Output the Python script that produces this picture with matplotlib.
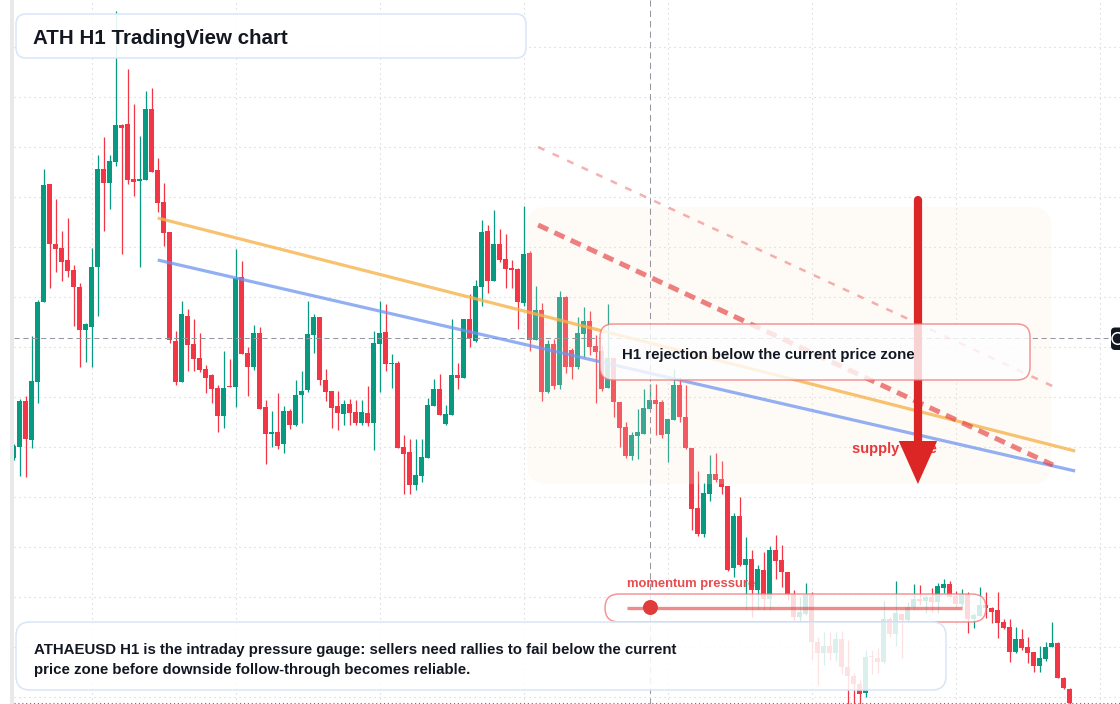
import numpy as np
import matplotlib
matplotlib.use("Agg")
import matplotlib.pyplot as plt
import matplotlib.transforms as mtransforms
from matplotlib.patches import FancyBboxPatch, Rectangle, Polygon, Circle

plt.rcParams['font.family'] = ['Liberation Sans', 'DejaVu Sans']

# ATHAEUSD H1 candles (price units arbitrary, grid every 5)
opens = [
    28.9, 30.0, 34.6, 30.7, 36.5, 44.5, 56.3, 50.3, 49.9, 48.7,
    47.7, 46.0, 41.7, 42.0, 48.0, 57.8, 56.4, 58.5, 62.2, 62.3,
    56.8, 56.6, 56.7, 63.8, 57.7, 54.5, 51.5, 40.6, 36.5, 43.1,
    40.3, 38.9, 37.8, 37.2, 35.9, 33.1, 36.1, 36.0, 47.0, 39.4,
    38.0, 41.4, 34.0, 31.3, 31.5, 30.3, 33.6, 32.2, 35.2, 35.7,
    41.2, 43.0, 36.7, 35.6, 34.1, 33.3, 34.3, 33.5, 32.4, 33.4,
    32.4, 40.3, 41.5, 38.3, 38.4, 30.0, 29.5, 26.2, 27.1, 28.9,
    34.1, 35.8, 32.3, 33.2, 37.2, 36.9, 42.8, 40.6, 46.0, 51.6,
    46.6, 50.3, 48.8, 47.9, 47.8, 44.4, 49.4, 40.7, 43.7, 35.5,
    40.3, 36.2, 45.0, 39.7, 38.0, 41.3, 42.6, 40.1, 39.6, 35.9,
    38.9, 34.5, 32.0, 29.1, 31.1, 31.3, 33.8, 34.7, 34.5, 31.3,
    32.7, 36.2, 33.0, 29.9, 23.9, 21.3, 25.3, 27.3, 26.8, 26.1,
    17.9, 23.1, 18.2, 18.8, 15.7, 17.7, 14.8, 19.7, 18.7, 17.5,
    15.3, 13.0, 13.3, 15.2, 10.5, 9.4, 10.1, 9.4, 10.8, 8.0,
    7.1, 6.3, 5.4, 9.1, 8.9, 8.5, 12.8, 11.3, 13.3, 12.7,
    14.0, 14.8, 14.6, 15.0, 14.5, 15.9, 16.3, 15.1, 14.3, 15.3,
    12.8, 13.1, 14.2, 13.9, 13.7, 12.5, 12.0, 9.5, 10.8, 10.0,
    9.5, 8.1, 8.8, 10.0, 10.4, 6.9, 5.8]
closes = [
    30.1, 34.6, 30.8, 36.6, 44.5, 56.2, 50.3, 49.8, 48.5, 47.6,
    46.0, 41.7, 42.3, 48.0, 57.8, 56.4, 58.6, 62.2, 61.9, 56.7,
    56.5, 56.8, 63.8, 57.5, 54.4, 51.4, 40.7, 36.5, 43.3, 40.2,
    38.8, 37.7, 36.9, 35.8, 33.1, 35.9, 36.0, 46.9, 39.3, 38.0,
    41.4, 33.8, 31.3, 31.5, 30.1, 33.6, 32.2, 35.2, 35.6, 41.3,
    43.0, 36.7, 35.5, 33.9, 33.4, 34.3, 33.4, 32.4, 33.5, 32.4,
    40.4, 41.4, 38.3, 38.4, 29.9, 29.3, 26.2, 27.2, 29.0, 34.2,
    35.8, 33.2, 33.3, 37.2, 36.9, 42.8, 40.9, 46.1, 51.5, 46.6,
    50.3, 48.7, 47.8, 47.7, 44.5, 49.3, 40.7, 43.7, 35.5, 40.3,
    36.1, 45.0, 38.0, 38.0, 41.4, 42.6, 40.0, 39.5, 35.8, 38.9,
    34.5, 31.9, 29.1, 31.2, 31.5, 33.9, 34.7, 34.3, 31.2, 32.8,
    36.2, 33.0, 29.9, 23.8, 21.3, 25.4, 27.3, 26.7, 26.0, 17.7,
    23.1, 18.2, 18.8, 15.7, 17.8, 14.8, 19.7, 18.6, 17.5, 15.3,
    13.0, 13.5, 15.2, 10.5, 9.4, 10.1, 9.4, 10.8, 8.0, 7.1,
    6.3, 5.3, 9.0, 9.0, 8.5, 12.8, 11.3, 13.4, 12.7, 14.0,
    14.8, 14.6, 15.0, 14.5, 16.1, 16.3, 15.0, 14.3, 15.3, 12.8,
    13.2, 14.2, 13.9, 13.5, 12.4, 11.9, 9.5, 10.8, 9.9, 9.4,
    8.1, 8.9, 10.0, 10.4, 6.9, 5.9, 4.4]
highs = [
    30.3, 34.8, 35.1, 41.1, 44.7, 57.8, 56.3, 54.8, 51.6, 52.9,
    48.2, 46.4, 42.4, 49.9, 59.2, 61.0, 59.2, 73.6, 62.3, 67.8,
    64.3, 61.1, 65.6, 65.9, 58.9, 56.4, 51.5, 41.6, 44.6, 43.8,
    42.8, 41.4, 38.2, 37.3, 36.2, 39.6, 38.8, 49.8, 48.6, 40.0,
    42.2, 42.0, 34.7, 33.6, 35.4, 34.1, 33.8, 36.7, 37.6, 44.6,
    43.3, 43.0, 37.8, 35.6, 35.6, 34.7, 34.8, 34.7, 34.7, 36.1,
    41.6, 44.6, 44.3, 39.3, 38.6, 31.2, 30.8, 30.8, 30.8, 34.9,
    36.8, 37.3, 34.2, 42.8, 38.4, 42.8, 45.3, 46.7, 52.7, 52.2,
    53.7, 51.8, 51.3, 48.7, 47.9, 54.1, 49.6, 46.1, 44.4, 40.7,
    40.8, 45.6, 45.1, 39.9, 43.0, 44.0, 43.6, 41.2, 40.2, 44.3,
    38.9, 34.5, 32.5, 31.5, 33.8, 35.8, 36.3, 36.3, 34.7, 32.8,
    37.8, 37.0, 36.2, 29.9, 27.6, 26.4, 29.2, 29.4, 28.6, 26.1,
    23.4, 25.0, 21.0, 19.7, 18.2, 19.5, 20.1, 21.2, 20.2, 17.5,
    15.7, 15.0, 16.4, 15.5, 11.0, 11.5, 11.5, 11.5, 11.6, 10.7,
    7.4, 6.7, 9.7, 9.7, 9.9, 14.6, 13.0, 16.6, 13.3, 14.5,
    16.3, 16.2, 15.2, 15.9, 16.4, 16.8, 16.6, 15.6, 15.8, 15.5,
    13.4, 16.0, 15.5, 14.0, 15.5, 12.8, 12.8, 12.0, 11.8, 11.0,
    9.5, 10.1, 10.5, 12.5, 10.5, 7.0, 5.9]
lows = [
    28.7, 27.1, 27.0, 29.9, 34.4, 44.5, 45.9, 47.5, 46.6, 47.0,
    42.1, 38.0, 38.5, 38.0, 43.1, 51.6, 53.8, 58.1, 49.3, 56.3,
    55.1, 48.0, 56.7, 57.5, 53.5, 50.1, 40.4, 36.2, 36.5, 37.6,
    37.6, 37.5, 35.4, 34.4, 31.5, 31.9, 36.0, 34.0, 39.3, 35.1,
    37.7, 33.8, 28.3, 30.0, 29.8, 29.4, 31.8, 32.1, 32.4, 35.5,
    39.4, 36.2, 34.6, 31.9, 31.7, 32.2, 32.2, 32.2, 32.2, 32.1,
    29.7, 35.5, 37.6, 35.9, 29.9, 25.3, 25.3, 25.7, 26.5, 28.9,
    34.1, 33.2, 32.2, 33.2, 35.8, 36.9, 40.0, 40.5, 44.1, 45.4,
    46.6, 48.5, 45.9, 45.9, 41.8, 44.1, 39.6, 40.7, 34.6, 35.4,
    35.8, 35.8, 37.4, 36.8, 37.8, 39.0, 39.2, 34.4, 35.6, 35.9,
    33.0, 30.0, 28.9, 28.7, 28.8, 31.3, 33.8, 31.2, 30.9, 28.5,
    32.7, 32.5, 29.8, 21.7, 21.1, 21.0, 24.6, 26.5, 25.3, 17.6,
    17.0, 18.1, 13.7, 13.0, 13.7, 13.7, 13.7, 16.8, 16.0, 14.7,
    12.7, 12.5, 13.2, 8.7, 6.2, 8.2, 8.7, 8.6, 7.3, 3.5,
    4.3, 3.5, 5.0, 7.3, 7.4, 8.4, 11.0, 10.1, 8.9, 12.5,
    13.7, 14.2, 13.4, 13.5, 13.4, 15.4, 15.0, 14.0, 14.0, 11.4,
    11.9, 13.1, 12.9, 12.4, 10.9, 11.8, 8.5, 9.4, 9.7, 8.4,
    7.5, 7.5, 8.6, 10.0, 6.9, 5.8, 3.8]

# drawn studies: (bar, price) end points
orange_trend = ([24.0, 176.9], [52.9, 29.6])
blue_trend = ([24.0, 176.9], [48.7, 27.6])
resist_dash = ([87.4, 173.2], [52.2, 28.2])
upper_dash = ([87.4, 173.1], [60.0, 36.1])
supply_bars = (85.6, 172.9)
supply_prices = (26.3, 54.0)
arrow_bar = 150.7
arrow_from = 54.7
arrow_to = 26.3
cross_bar = 106
cross_price = 40.9
gauge_level = 0.07

GREEN = '#089981'
RED = '#f23645'
DARK = '#131722'
W, HGT = 1120, 704

fig = plt.figure(figsize=(11.2, 7.04), dpi=100)
ax = fig.add_axes([14 / W, 0, (W - 14) / W, 1])
px = mtransforms.IdentityTransform()

o = np.array(opens); c = np.array(closes)
hi = np.array(highs); lo = np.array(lows)
x = np.arange(len(o))
cols = np.where(c >= o, GREEN, RED)
ax.vlines(x, lo, hi, colors=cols, lw=0.9, zorder=2)
ax.bar(x, np.maximum(np.abs(c - o), 0.12), bottom=np.minimum(o, c), width=0.8,
       color=cols, lw=0, zorder=2.1)

# grid
ax.set_xticks(np.arange(13, 185, 24))
ax.set_yticks(np.arange(5, 75, 5))
ax.grid(True, color='#cdd0d5', lw=0.8, linestyle=(0, (1, 3.5)))
ax.set_axisbelow(True)
ax.tick_params(length=0, labelleft=False, labelbottom=False)
for s in ax.spines.values():
    s.set_visible(False)

# supply zone shading
ax.add_patch(FancyBboxPatch((supply_bars[0], supply_prices[0]),
                            supply_bars[1] - supply_bars[0], supply_prices[1] - supply_prices[0],
                            boxstyle="round,pad=0,rounding_size=3.3", mutation_aspect=0.6,
                            fc='#fbe6d2', ec='none', alpha=0.2, zorder=2.5))

# crosshair + last price line
ax.axvline(cross_bar, color='#9598a1', lw=0.75, ls=(0, (6, 4)), zorder=2.6)
ax.hlines(cross_price, 0.05, 182.4, color='#9598a1', lw=0.75, ls=(0, (5, 3.5)), zorder=2.6)
ax.axhline(c[-1], color=RED, lw=0.8, ls=(0, (1, 2.5)), zorder=2.6)

# trend lines
ax.plot(*orange_trend, color='#f7b34c', lw=2.3, alpha=0.8, solid_capstyle='butt', zorder=4)
ax.plot(*blue_trend, color='#6f95f0', lw=2.3, alpha=0.75, solid_capstyle='butt', zorder=4)
ax.plot(*resist_dash, color='#e53e3e', lw=3.6, alpha=0.65, ls=(0, (2.2, 1.4)), zorder=4)
ax.plot(*upper_dash, color='#e53e3e', lw=1.8, alpha=0.4, ls=(0, (2.8, 3.6)), zorder=4)

# supply zone label and the arrow drawn over it
ax.text(851.5, HGT - 453, 'supply zone', transform=px, fontsize=10.5, fontweight='bold',
        color='#e5383b', zorder=4.9)
head_len, head_half = 4.3, 3.2
ax.plot([arrow_bar, arrow_bar], [arrow_from, arrow_to + head_len - 0.3], color='#dc2626',
        lw=5.9, solid_capstyle='round', zorder=5)
ax.add_patch(Polygon([(arrow_bar - head_half, arrow_to + head_len),
                      (arrow_bar + head_half, arrow_to + head_len),
                      (arrow_bar, arrow_to)], closed=True, fc='#dc2626', lw=0, zorder=5))


def box(x0, y0, x1, y1, r, ec, a, z=6, lw=1.1):
    ax.add_patch(FancyBboxPatch((x0, HGT - y1), x1 - x0, y1 - y0,
                                boxstyle=f"round,pad=0,rounding_size={r}", transform=px,
                                fc=(1, 1, 1, a), ec=ec, lw=lw, zorder=z))


# title
box(16, 14, 526, 58, 10, '#d8e5f8', 0.9)
ax.text(33, HGT - 43.5, 'ATH H1 TradingView chart', transform=px, fontsize=14.8,
        fontweight='bold', color=DARK, zorder=7)

# rejection callout
box(600, 324, 1030, 380, 13, (0.94, 0.45, 0.45, 0.75), 0.8)
ax.text(622.5, HGT - 359.5, 'H1 rejection below the current price zone', transform=px,
        fontsize=10.8, fontweight='bold', color=DARK, zorder=7)

# momentum gauge
box(605, 594, 986, 622, 14, (0.94, 0.45, 0.45, 0.75), 0.82)
g0, g1, gy = 627, 962, HGT - 607.5
ax.plot([g0, g1], [gy, gy], transform=px, color='#e53e3e', alpha=0.6, lw=2.4,
        solid_capstyle='butt', zorder=7)
ax.add_patch(Circle((g0 + gauge_level * (g1 - g0), gy), 7.5, transform=px,
                    fc='#e03c3c', ec='none', zorder=7.1))
ax.text(627, HGT - 587, 'momentum pressure', transform=px, fontsize=9.4,
        fontweight='bold', color='#e5383b', alpha=0.9, zorder=7)

# bottom note
box(16, 622, 946, 690, 14, '#d8e5f8', 0.86)
ax.text(34.5, HGT - 654, 'ATHAEUSD H1 is the intraday pressure gauge: sellers need rallies to fail below the current',
        transform=px, fontsize=10.8, fontweight='bold', color=DARK, zorder=7)
ax.text(34.5, HGT - 674, 'price zone before downside follow-through becomes reliable.',
        transform=px, fontsize=10.8, fontweight='bold', color=DARK, zorder=7)

# price-scale crosshair label stub at right edge
box(1111, 327.5, 1135, 350, 4, 'none', 1.0, z=8)
ax.patches[-1].set_facecolor('#131722')
ax.add_patch(Circle((1117.8, HGT - 338.5), 5.8, transform=px, fc='none', ec='white',
                    lw=1.1, zorder=8.5))

# left border strip
fig.add_artist(Rectangle((10, 0), 3.6, HGT, transform=px, fc='#e9e9eb', ec='none'))

ax.set_xlim(0.05, 184.38)
ax.set_ylim(4.3, 74.7)
fig.savefig('out.png', dpi=100)
